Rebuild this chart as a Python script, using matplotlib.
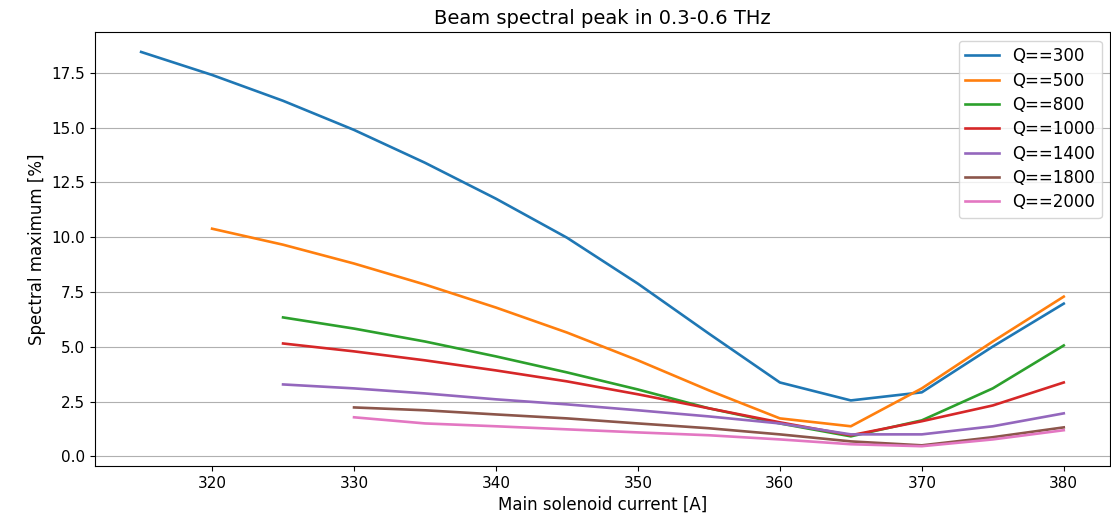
import numpy as np
import matplotlib
matplotlib.use('Agg')
import matplotlib.pyplot as plt

current = [315, 320, 325, 330, 335, 340, 345, 350, 355, 360, 365, 370, 375, 380]

q300 = [18.46, 17.41, 16.23, 14.9, 13.4, 11.76, 9.98, 7.88, 5.6, 3.37, 2.55, 2.92, 5.01, 6.97]
q500 = [10.39, 9.66, 8.80, 7.84, 6.79, 5.65, 4.38, 3.01, 1.73, 1.37, 3.10, 5.24, 7.29]
q800 = [6.34, 5.83, 5.24, 4.56, 3.83, 3.05, 2.19, 1.50, 0.91, 1.64, 3.10, 5.06]
q1000 = [5.15, 4.79, 4.38, 3.92, 3.42, 2.83, 2.19, 1.55, 0.96, 1.60, 2.32, 3.37]
q1400 = [3.28, 3.10, 2.87, 2.60, 2.37, 2.10, 1.82, 1.50, 1.00, 1.00, 1.37, 1.96]
q1800 = [2.23, 2.10, 1.91, 1.73, 1.50, 1.28, 1.00, 0.68, 0.50, 0.87, 1.32]
q2000 = [1.78, 1.50, 1.37, 1.23, 1.09, 0.96, 0.77, 0.55, 0.46, 0.77, 1.19]

series = {300: q300, 500: q500, 800: q800, 1000: q1000,
          1400: q1400, 1800: q1800, 2000: q2000}

fig, ax = plt.subplots(figsize=(11.11, 5.2), dpi=100)
fig.subplots_adjust(left=0.0855, right=0.999, top=0.938, bottom=0.104)

for q, vals in series.items():
    x = current[len(current) - len(vals):]
    ax.plot(x, vals, label='Q==%d' % q, lw=1.9)

ax.grid(axis='y')
ax.set_title('Beam spectral peak in 0.3-0.6 THz', fontsize=14)
ax.set_xlabel('Main solenoid current [A]', fontsize=12)
ax.set_ylabel('Spectral maximum [%]', fontsize=12)
ax.tick_params(labelsize=11)
ax.legend(fontsize=12, labelspacing=0.38)

fig.savefig('out.png', dpi=100)
